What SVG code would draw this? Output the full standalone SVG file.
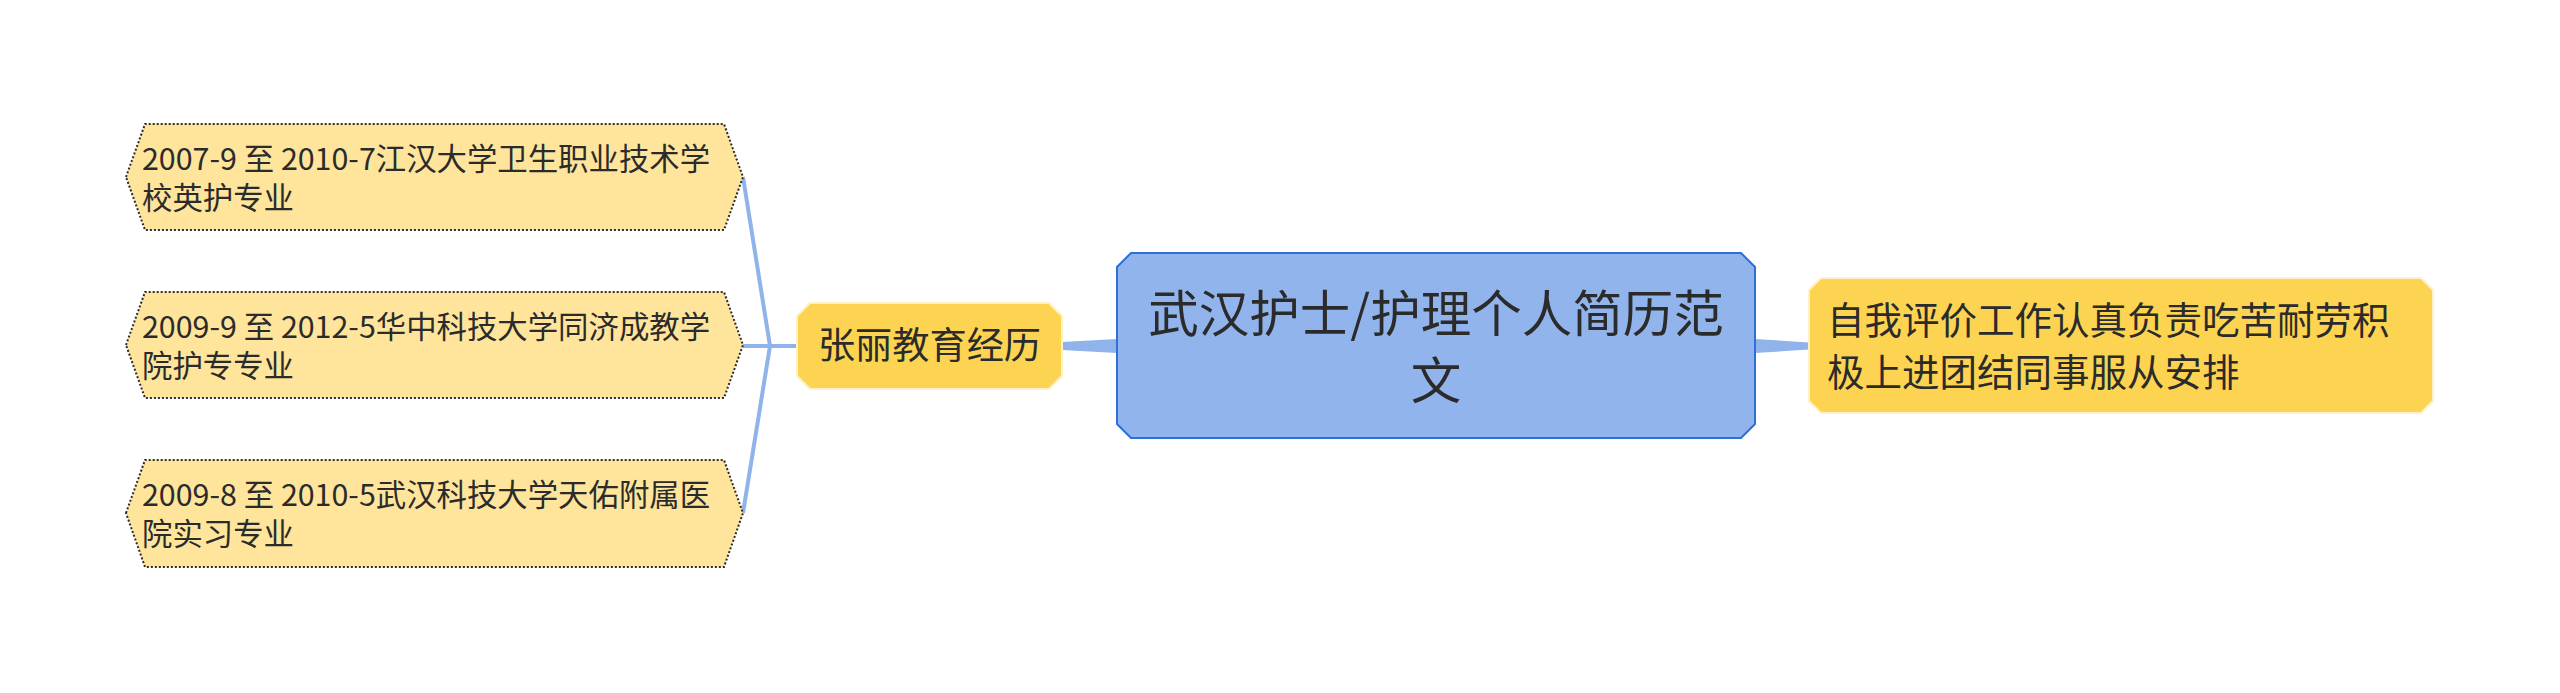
<svg xmlns="http://www.w3.org/2000/svg" width="2560" height="693" viewBox="0 0 2560 693">
<style>
.t{font-family:"Noto Sans CJK SC","Liberation Sans",sans-serif;fill:#2b2b2b}
.leaf{fill:#FEE59B;stroke:#2b2b2b;stroke-width:2;stroke-dasharray:2 2}
.sub{fill:#FDD451;stroke:#FFF0C8;stroke-width:2}
.conn{fill:none;stroke:#8FB3EA;stroke-width:4}
.taper{fill:#8FB3EA}
</style>
<rect width="2560" height="693" fill="#ffffff"/>
<g id="connectors">
<path class="taper" d="M1755 339 L1809 342.5 L1809 349.5 L1755 353 Z"/>
<path class="taper" d="M1062 342 L1117 339 L1117 353 L1062 350 Z"/>
<path class="conn" d="M798 346 H770"/>
<path class="conn" d="M770 346 L743 177"/>
<path class="conn" d="M770 346 H743"/>
<path class="conn" d="M770 346 L743 513"/>
</g>
<g id="center">
<polygon points="1131,253 1741,253 1755,267 1755,424 1741,438 1131,438 1117,424 1117,267" fill="#92B4EC" stroke="#2E6FD8" stroke-width="2"/>
<text class="t" x="1436" y="332" font-size="50.5" text-anchor="middle">武汉护士/护理个人简历范</text>
<text class="t" x="1436" y="399" font-size="50.5" text-anchor="middle">文</text>
</g>
<g id="self-eval">
<polygon class="sub" points="1821,278 2421,278 2433,290 2433,401 2421,413 1821,413 1809,401 1809,290"/>
<text class="t" x="1827" y="334" font-size="37.5">自我评价工作认真负责吃苦耐劳积</text>
<text class="t" x="1827" y="386" font-size="37.5">极上进团结同事服从安排</text>
</g>
<g id="education">
<polygon class="sub" points="810,303 1049,303 1062,316 1062,376 1049,389 810,389 797,376 797,316"/>
<text class="t" x="929.5" y="359" font-size="37.2" text-anchor="middle">张丽教育经历</text>
</g>
<g id="edu1">
<polygon class="leaf" points="126,177 145,124 724,124 743,177 724,230 145,230"/>
<text class="t" x="142" y="170" font-size="30.4">2007-9 至 2010-7江汉大学卫生职业技术学</text>
<text class="t" x="142" y="209" font-size="30.4">校英护专业</text>
</g>
<g id="edu2">
<polygon class="leaf" points="126,345 145,292 724,292 743,345 724,398 145,398"/>
<text class="t" x="142" y="338" font-size="30.4">2009-9 至 2012-5华中科技大学同济成教学</text>
<text class="t" x="142" y="377" font-size="30.4">院护专专业</text>
</g>
<g id="edu3">
<polygon class="leaf" points="126,513 145,460 724,460 743,513 724,567 145,567"/>
<text class="t" x="142" y="506" font-size="30.4">2009-8 至 2010-5武汉科技大学天佑附属医</text>
<text class="t" x="142" y="545" font-size="30.4">院实习专业</text>
</g>
</svg>
